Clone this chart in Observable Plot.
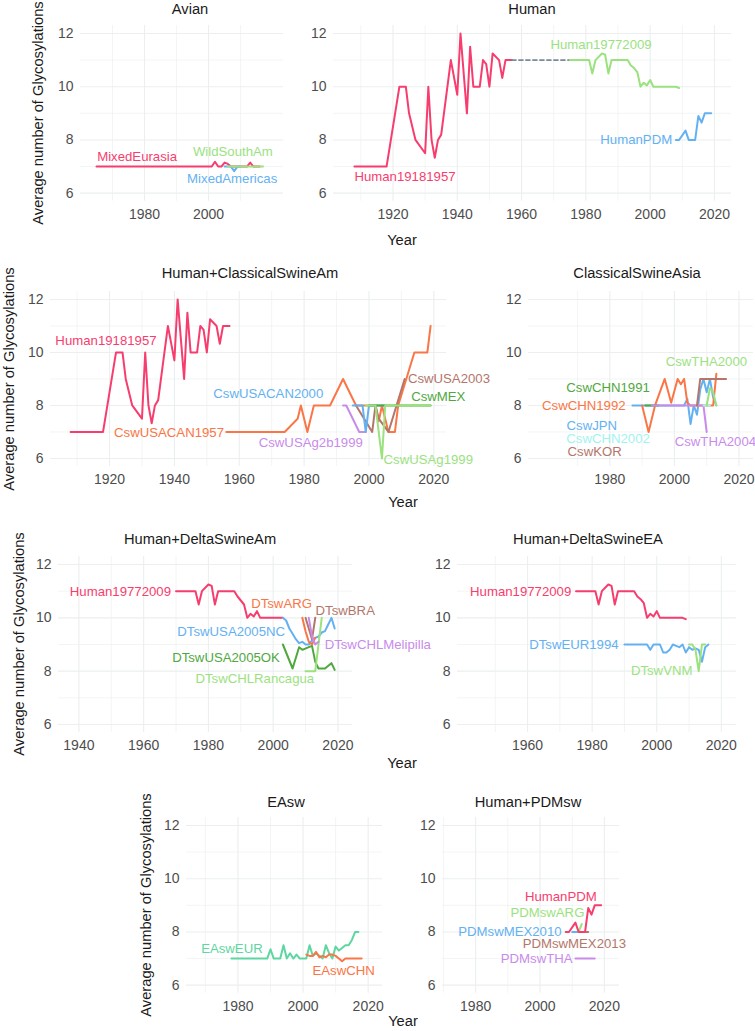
<!DOCTYPE html>
<html><head><meta charset="utf-8">
<script src="https://cdn.jsdelivr.net/npm/d3@7"></script>
<script src="https://cdn.jsdelivr.net/npm/@observablehq/plot@0.6"></script>
<style>
body{margin:0;background:#fff;}
#root{position:relative;width:755px;height:1031px;overflow:hidden;font-family:"Liberation Sans",Arial,Helvetica,sans-serif;}
.t{position:absolute;white-space:nowrap;line-height:1;color:#1a1a1a;font-size:14.7px;transform:translate(-50%,-50%);}
.r{transform:translate(-50%,-50%) rotate(-90deg);}
</style></head><body><div id="root"></div>
<script>
// ---------- data: [year, average number of glycosylations] ----------
const mixedEurasia = [[1965,7],[2001,7],[2002,7.18],[2003,7],[2004,7],[2005,7.15],[2006,7.1],[2007,7],[2012,7],[2013,7.15],[2014,7],[2016,7]];
const mixedAmericas = [[2005,7],[2007,7],[2008,6.83],[2009,7],[2010,7]];
const wildSouthAm = [[2006,7],[2017,7]];

const human19181957 = [[1908,7],[1918,7],[1922,10],[1924,10],[1925,9],[1927,8],[1930,7.5],[1931,10],[1932,8],[1933,7.33],[1934,8],[1935,8.2],[1938,11],[1940,9.7],[1941,12],[1943,9],[1944,11.5],[1945,10],[1947,10],[1948,11],[1949,10.85],[1950,10],[1951,11.25],[1953,11],[1954,10.33],[1955,11],[1957,11]];
const humanGap = [[1957,11],[1975,11]];
const human19772009 = [[1975,11],[1981,11],[1982,10.5],[1983,11],[1985,11.25],[1986,11.2],[1987,10.5],[1988,11],[1993,11],[1994,10.8],[1995,10.7],[1996,10.55],[1997,10],[1998,10.15],[1999,10.05],[2000,10.25],[2001,10],[2008,10],[2009,9.95]];
const humanPDM = [[2008,8],[2009,8],[2011,8.35],[2012,8],[2014,8],[2015,8.9],[2016,8.65],[2017,9],[2019,9]];

const cswUSACAN1957 = [[1956,7],[1974,7],[1978,7.5],[1979,8],[1981,7],[1983,8],[1988,8],[1992,9],[1996,8],[2002,8],[2003,7.4],[2004,8],[2006,7],[2008,7],[2009,8],[2014,10],[2018,10],[2019,11]];
const cswUSAg2b1999 = [[1992,8],[1993,8],[1997,7],[1999,7]];
const cswUSACAN2000 = [[1995,8],[1998,8],[1999,7],[2000,8],[2005,8]];
const cswUSA2003 = [[1996,8],[2001,7],[2002,8],[2003,7.5],[2006,7],[2011,9]];
const cswMEX = [[2000,8],[2019,8]];
const cswUSAg1999 = [[1999,8],[2002,8],[2004,6],[2005,8],[2019,8]];

const cswJPN = [[1987,8],[2003,8],[2004,8.25],[2005,7.3],[2006,8],[2007,7.65],[2008,8.6],[2009,9],[2010,8.5],[2011,9],[2012,8.3],[2013,8]];
const cswCHN1992 = [[1990,8],[1992,7],[1994,8],[1997,9],[1999,8.1],[2001,9],[2002,8.8],[2003,9],[2004,8.1],[2005,8],[2012,8],[2013,9.2]];
const cswCHN1991 = [[1991,8],[1995,8]];
const cswTHA2004 = [[1993,8],[2009,8],[2010,7]];
const cswKOR = [[2007,8],[2008,9],[2016,9]];
const cswCHN2002 = [[2009,8],[2011,8]];
const cswTHA2000 = [[2010,8],[2011,8.65],[2012,8.5],[2013,8]];

const human19772009Am = [[1970,11],[1976,11],[1977,10.5],[1978,11],[1980,11.25],[1981,11.2],[1982,10.5],[1983,11],[1988,11],[1989,10.8],[1990,10.65],[1991,10.5],[1992,10],[1993,10.15],[1994,10.05],[1995,10.25],[1996,10],[2003,10]];
const dtswUSA2005NC = [[2003,10],[2004,9.9],[2005,9.6],[2006,9.4],[2007,9.2],[2008,9.05],[2009,9.1],[2010,9.0],[2011,9.0],[2012,9.15],[2013,9.25],[2014,9.3],[2015,9.45],[2016,9.5],[2017,9.75],[2018,10],[2019,9.6]];
const dtswUSA2005OK = [[2003,9],[2006,8.1],[2008,8.9],[2009,8.8],[2011,8.9],[2012,8.95],[2013,8.35],[2014,8.1],[2016,8.1],[2018,8.3],[2019,8.05]];
const dtswCHLRancagua = [[2010,8],[2013,8],[2015,10]];
const dtswARG = [[2009,10],[2010,9.5],[2011,9.1],[2012,9],[2013,9.25]];
const dtswBRA = [[2010,10],[2012,9.2],[2013,10]];
const dtswCHLMelipilla = [[2011,10],[2012,9.3],[2013,9.0],[2014,9.1]];

const dtswEUR1994 = [[1990,9],[1997,9],[1998,8.8],[1999,9],[2001,9],[2002,8.7],[2003,8.7],[2004,8.8],[2005,9],[2006,8.95],[2007,8.9],[2008,9],[2009,8.7],[2010,8.9],[2011,8.8],[2012,8.85],[2013,8.8],[2014,8.35],[2015,8.9],[2016,9]];
const dtswVNM = [[2010,9],[2011,9],[2012,8.8],[2013,8],[2014,9],[2015,9]];

const easwEUR = [[1978,7],[1989,7],[1990,7.35],[1991,7],[1993,7],[1994,7.5],[1995,7],[1996,7.2],[1997,7],[1998,7.15],[1999,7],[2001,7],[2002,7.5],[2003,7.1],[2004,7.2],[2005,7.1],[2006,7],[2007,7.5],[2008,7.2],[2009,7],[2010,7.45],[2011,7.3],[2012,7.4],[2013,7.5],[2014,7.5],[2015,7.7],[2016,8],[2017,8]];
const easwCHN = [[2001,7.15],[2002,7.1],[2003,7.1],[2004,7.25],[2005,7.05],[2006,7.1],[2007,7.05],[2008,7.15],[2009,7.15],[2010,7.1],[2011,7],[2012,6.9],[2013,7],[2018,7]];

const pdmswMEX2010 = [[2010,8],[2012,8]];
const pdmswMEX2013 = [[2013,8],[2015,8]];
const pdmswARG = [[2012,8],[2013,8.3]];
const pdmswTHA = [[2011,7],[2017,7]];

const yTicks = [6, 8, 10, 12];
const yMinor = [7, 9, 11];

// ---------- styles ----------
const C = {red:"#F73D6E", lgreen:"#9BE27F", blue:"#64B1F2", orange:"#FA7646", brown:"#B4766B",
  dgreen:"#4FA83E", purple:"#C98BEA", cyan:"#A2F3F0", teal:"#5ED6A1", grey:"#7A8B9A"};
const GRID = "#EBEFEF";
const FONT = '"Liberation Sans", Arial, Helvetica, sans-serif';

const rows = [{y12:33.3,y6:193},{y12:299,y6:458},{y12:564,y6:724},{y12:825.3,y6:985}];

const panels = [
 {row:0,left:80,right:283,xDomain:[1960,2023.4],xTicks:[1980,2000],xMinor:[1970,1990,2010],
  series:[[mixedEurasia,C.red],[mixedAmericas,C.blue],[wildSouthAm,C.lgreen]],
  labels:[["MixedEurasia",1965.2,7.35,C.red],["WildSouthAm",1995.1,7.54,C.lgreen],["MixedAmericas",1993.3,6.53,C.blue]]},
 {row:0,left:333,right:731,xDomain:[1901.5,2025.3],xTicks:[1920,1940,1960,1980,2000,2020],xMinor:[1910,1930,1950,1970,1990,2010],
  series:[[human19181957,C.red],[humanGap,C.grey,"4,3"],[human19772009,C.lgreen],[humanPDM,C.blue]],
  labels:[["Human19181957",1908,6.61,C.red],["Human19772009",1969,11.59,C.lgreen],["HumanPDM",1984.5,7.99,C.blue]]},
 {row:1,left:50,right:446,xDomain:[1901.8,2023.9],xTicks:[1920,1940,1960,1980,2000,2020],xMinor:[1910,1930,1950,1970,1990,2010],
  series:[[human19181957,C.red],[cswUSACAN1957,C.orange],[cswUSAg2b1999,C.purple],[cswUSA2003,C.brown],[cswUSACAN2000,C.blue],[cswMEX,C.dgreen],[cswUSAg1999,C.lgreen]],
  labels:[["Human19181957",1903.3,10.45,C.red],["CswUSACAN2000",1952,8.44,C.blue],["CswUSACAN1957",1921.4,6.97,C.orange],
   ["CswUSAg2b1999",1966,6.59,C.purple],["CswUSA2003",2012,9.01,C.brown],["CswMEX",2013,8.31,C.dgreen],["CswUSAg1999",2004.5,5.96,C.lgreen]]},
 {row:1,left:528,right:753,xDomain:[1954.8,2024.5],xTicks:[1980,2000,2020],xMinor:[1970,1990,2010],
  series:[[cswJPN,C.blue],[cswCHN1992,C.orange],[cswCHN1991,C.dgreen],[cswTHA2004,C.purple],[cswKOR,C.brown],[cswCHN2002,C.cyan],[cswTHA2000,C.lgreen]],
  labels:[["CswTHA2000",1997.3,9.66,C.lgreen],["CswCHN1991",1966.5,8.67,C.dgreen],["CswCHN1992",1959,7.97,C.orange],
   ["CswJPN",1966.6,7.25,C.blue],["CswCHN2002",1966.5,6.74,C.cyan],["CswKOR",1966.9,6.24,C.brown],["CswTHA2004",2000.1,6.62,C.purple]]},
 {row:2,left:58,right:352,xDomain:[1933.7,2024.5],xTicks:[1940,1960,1980,2000,2020],xMinor:[1950,1970,1990,2010],
  series:[[human19772009Am,C.red],[dtswUSA2005NC,C.blue],[dtswUSA2005OK,C.dgreen],[dtswCHLRancagua,C.lgreen],[dtswARG,C.orange],[dtswBRA,C.brown],[dtswCHLMelipilla,C.purple]],
  labels:[["Human19772009",1937.2,10.99,C.red],["DTswARG",1993.2,10.53,C.orange],["DTswBRA",2013.1,10.28,C.brown],
   ["DTswUSA2005NC",1970.4,9.49,C.blue],["DTswCHLMelipilla",2015.9,8.99,C.purple],["DTswUSA2005OK",1968.8,8.52,C.dgreen],["DTswCHLRancagua",1976,7.71,C.lgreen]]},
 {row:2,left:457,right:736,xDomain:[1938.3,2024.7],xTicks:[1960,1980,2000,2020],xMinor:[1950,1970,1990,2010],
  series:[[human19772009,C.red],[dtswEUR1994,C.blue],[dtswVNM,C.lgreen]],
  labels:[["Human19772009",1942.2,10.99,C.red],["DTswEUR1994",1960.5,8.99,C.blue],["DTswVNM",1992,8.03,C.lgreen]]},
 {row:3,left:186,right:382,xDomain:[1964.2,2024.4],xTicks:[1980,2000,2020],xMinor:[1970,1990,2010],
  series:[[easwEUR,C.teal],[easwCHN,C.orange]],
  labels:[["EAswEUR",1968.7,7.36,C.teal],["EAswCHN",2002.9,6.56,C.orange]]},
 {row:3,left:442,right:619,xDomain:[1969.7,2024.7],xTicks:[1980,2000,2020],xMinor:[1970,1990,2010],
  series:[[pdmswMEX2010,C.blue],[pdmswMEX2013,C.brown],[pdmswARG,C.lgreen],[pdmswTHA,C.purple],[humanPDM,C.red]],
  labels:[["HumanPDM",1995.3,9.34,C.red],["PDMswARG",1990.8,8.72,C.lgreen],["PDMswMEX2010",1974.6,8.0,C.blue],
   ["PDMswMEX2013",1994.6,7.56,C.brown],["PDMswTHA",1987.8,7.0,C.purple]]}
];

const titles = [["Avian",190,8.5],["Human",532,8.5],["Human+ClassicalSwineAm",250,273],["ClassicalSwineAsia",637,273],
  ["Human+DeltaSwineAm",200,539],["Human+DeltaSwineEA",588,539],["EAsw",286,802],["Human+PDMsw",528,802]];
const yTitles = [[38,113],[9,378.5],[19,644],[146,905]];
const xTitles = [[402,240],[403,502],[402,763],[403,1021]];

const root = document.getElementById("root");

for (const p of panels) {
  const r = rows[p.row];
  const k = (r.y6 - r.y12) / 6;
  const top = r.y12 - 0.3 * k, bottom = r.y6 + 0.3 * k;
  const mL = 50, mR = 10, mT = 10, mB = 30;
  const marks = [
    Plot.ruleX(p.xMinor, {stroke: GRID, strokeWidth: 0.6}),
    Plot.ruleY(yMinor, {stroke: GRID, strokeWidth: 0.6}),
    Plot.ruleX(p.xTicks, {stroke: GRID, strokeWidth: 1.1}),
    Plot.ruleY(yTicks, {stroke: GRID, strokeWidth: 1.1}),
    ...p.series.map(([data, color, dash]) => Plot.line(data, {x: d => d[0], y: d => d[1], stroke: color,
        strokeWidth: dash ? 1.7 : 2, strokeDasharray: dash, strokeLinejoin: "round"})),
    ...p.labels.map(([text, x, y, color]) => Plot.text([{text, x, y}], {x: "x", y: "y", text: "text", fill: color,
        textAnchor: "start", lineAnchor: "middle", fontSize: 13.2}))
  ];
  const svg = Plot.plot({
    width: p.right - p.left + mL + mR,
    height: bottom - top + mT + mB,
    marginLeft: mL, marginRight: mR, marginTop: mT, marginBottom: mB,
    x: {domain: p.xDomain, ticks: p.xTicks, tickFormat: d => String(d), tickSize: 0, tickPadding: 8, label: null},
    y: {domain: [5.7, 12.3], ticks: yTicks, tickFormat: d => String(d), tickSize: 0, tickPadding: 7, label: null},
    style: {fontFamily: FONT, fontSize: "14px", color: "#4D4D4D", background: "transparent", overflow: "visible"},
    marks
  });
  svg.style.position = "absolute";
  svg.style.left = (p.left - mL) + "px";
  svg.style.top = (top - mT) + "px";
  svg.style.maxWidth = "none";
  root.appendChild(svg);
}

function addText(text, x, y, cls) {
  const d = document.createElement("div");
  d.className = "t" + (cls ? " " + cls : "");
  d.textContent = text;
  d.style.left = x + "px";
  d.style.top = y + "px";
  root.appendChild(d);
}
for (const [t, x, y] of titles) addText(t, x, y);
for (const [x, y] of yTitles) addText("Average number of Glycosylations", x, y, "r");
for (const [x, y] of xTitles) addText("Year", x, y);
</script></body></html>
